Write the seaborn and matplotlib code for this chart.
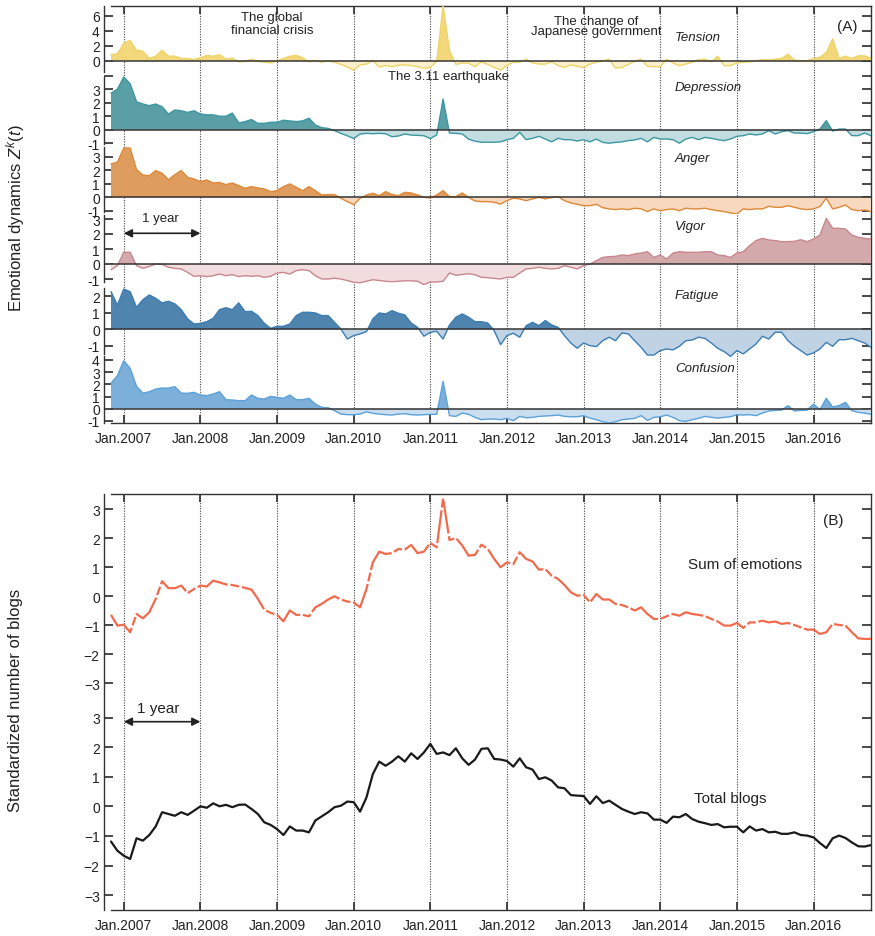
import numpy as np
import matplotlib
matplotlib.use("Agg")
import matplotlib.pyplot as plt
import seaborn as sns

# ---------------- data (monthly, Nov 2006 .. Oct 2016) ----------------
months = np.arange(120)
year_ticks = [2, 14, 26, 38, 50, 62, 74, 86, 98, 110]
year_labels = ["Jan.2007", "Jan.2008", "Jan.2009", "Jan.2010", "Jan.2011",
               "Jan.2012", "Jan.2013", "Jan.2014", "Jan.2015", "Jan.2016"]

tension = [0.8, 0.9, 2.35, 2.7, 1.4, 1.25, 0.3, 0.6, 1.4, 0.6,
           0.6, 0.3, 0.3, 0.15, 0.4, 0.7, 0.6, 0.8, 0.2, 0.35,
           -0.15, -0.1, 0.2, -0.1, -0.2, -0.3, -0.05, 0.3, 0.6, 0.7,
           0.4, -0.15, 0.05, -0.2, -0.05, -0.2, -0.5, -0.85, -1.25, -0.55,
           -0.45, 0.0, -0.85, -0.65, -0.8, -0.6, -0.55, -0.65, -0.8, -1.0,
           -0.9, -0.1, 7.3, 1.35, -0.5, -0.3, -0.35, -0.8, -0.15, -0.5,
           -0.9, -1.25, -0.65, -0.2, -0.2, 0.2, -0.3, -0.45, -0.45, -0.15,
           -0.65, -0.9, -0.55, -0.75, -0.9, -0.45, -0.2, 0.0, 0.2, -1.0,
           -0.9, -0.5, -0.05, 0.2, -0.75, -0.8, -0.8, 0.2, -0.3, -0.65,
           -0.45, -0.2, 0.15, 0.2, -0.15, 0.6, -0.65, -0.65, -0.3, -0.2,
           -0.15, 0.0, 0.15, 0.1, 0.2, 0.3, 0.85, 0.1, 0.0, 0.0,
           0.3, 0.45, 1.1, 2.9, 0.3, 0.6, 0.3, 0.65, 0.65, 0.3]

depression = [2.7, 3.0, 3.9, 3.4, 2.07, 1.9, 1.78, 1.9, 1.7, 1.16,
              1.46, 1.4, 1.28, 1.4, 1.16, 1.1, 1.1, 1.0, 1.0, 1.23,
              0.5, 0.6, 0.75, 0.47, 0.47, 0.55, 0.55, 0.7, 0.65, 0.6,
              0.65, 0.85, 0.35, 0.15, 0.1, -0.07, -0.27, -0.45, -0.65, -0.32,
              -0.27, -0.3, -0.27, -0.3, -0.52, -0.47, -0.32, -0.4, -0.42, -0.45,
              -0.65, -0.4, 2.27, -0.25, -0.27, -0.32, -0.7, -0.85, -0.93, -0.93,
              -0.93, -0.9, -0.74, -0.64, -0.2, -0.74, -0.64, -0.49, -0.69, -0.9,
              -0.64, -0.74, -0.74, -0.84, -0.74, -0.9, -0.69, -0.94, -1.0, -0.94,
              -0.9, -0.81, -0.76, -0.64, -0.9, -0.57, -0.69, -0.69, -0.74, -1.0,
              -0.69, -0.57, -0.74, -0.57, -0.64, -0.74, -0.81, -0.69, -0.49, -0.44,
              -0.32, -0.39, -0.32, -0.07, -0.32, -0.15, -0.07, -0.25, -0.25, -0.29,
              -0.15, 0.05, 0.67, -0.1, 0.05, 0.05, -0.44, -0.44, -0.25, -0.44]

anger = [2.47, 2.6, 3.65, 3.65, 2.05, 1.65, 1.6, 1.98, 1.78, 1.3,
         1.68, 1.98, 1.48, 1.36, 1.16, 1.28, 1.06, 1.1, 0.94, 1.06,
         0.86, 0.67, 0.79, 0.69, 0.62, 0.42, 0.49, 0.79, 0.99, 0.74,
         0.49, 0.79, 0.49, 0.17, 0.2, 0.2, -0.07, -0.32, -0.54, -0.07,
         0.17, 0.3, 0.12, 0.42, 0.2, 0.12, 0.37, 0.32, 0.17, 0.0,
         -0.05, 0.17, 0.49, 0.05, 0.05, 0.32, 0.0, -0.28, -0.32, -0.32,
         -0.37, -0.5, -0.25, -0.07, -0.12, -0.25, -0.12, 0.0, -0.12, -0.02,
         0.05, -0.25, -0.42, -0.52, -0.62, -0.62, -0.52, -0.77, -0.86, -0.91,
         -0.86, -0.91, -0.81, -0.86, -1.06, -0.86, -0.99, -0.91, -0.86, -0.99,
         -0.81, -0.86, -0.86, -0.81, -0.91, -0.99, -1.06, -1.16, -1.23, -0.86,
         -0.91, -0.86, -0.86, -0.67, -0.74, -0.74, -0.62, -0.74, -0.86, -0.91,
         -0.86, -0.69, -0.07, -0.86, -0.74, -0.57, -0.91, -0.99, -0.94, -1.06]

vigor = [-0.38, -0.11, 0.78, 0.78, -0.11, -0.29, -0.16, 0.0, -0.02, -0.22,
         -0.29, -0.33, -0.56, -0.82, -0.78, -0.84, -0.78, -0.67, -0.78, -0.71,
         -0.84, -0.78, -0.82, -0.78, -0.89, -0.82, -0.6, -0.56, -0.67, -0.44,
         -0.38, -0.44, -0.78, -1.0, -1.0, -0.95, -1.0, -1.1, -1.22, -1.25,
         -1.15, -1.05, -1.1, -1.15, -1.18, -1.15, -1.12, -1.12, -1.15, -1.38,
         -1.2, -1.2, -1.15, -0.6, -0.75, -0.7, -0.65, -0.72, -0.89, -0.91,
         -0.96, -1.0, -0.89, -0.89, -0.6, -0.33, -0.29, -0.22, -0.29, -0.33,
         -0.29, -0.11, -0.22, -0.33, -0.11, 0.0, 0.22, 0.44, 0.49, 0.51,
         0.6, 0.56, 0.67, 0.73, 0.82, 0.44, 0.6, 0.33, 0.73, 0.82,
         0.78, 0.78, 0.78, 0.82, 0.82, 0.6, 0.56, 0.44, 0.73, 0.82,
         1.22, 1.56, 1.71, 1.6, 1.56, 1.49, 1.49, 1.51, 1.62, 1.49,
         1.67, 1.93, 3.04, 2.38, 2.38, 2.33, 1.93, 1.78, 1.71, 1.67]

fatigue = [2.28, 1.47, 2.44, 2.28, 1.33, 1.8, 2.08, 1.88, 1.6, 1.7,
           1.54, 1.19, 0.63, 0.32, 0.36, 0.46, 0.67, 1.19, 1.31, 1.19,
           1.6, 1.07, 1.09, 0.83, 0.36, 0.06, 0.18, 0.18, 0.32, 0.83,
           1.03, 1.03, 0.99, 0.83, 0.83, 0.42, 0.02, -0.59, -0.38, -0.28,
           -0.14, 0.63, 0.99, 0.93, 1.13, 0.97, 0.87, 0.38, 0.12, -0.42,
           -0.18, -0.12, -0.59, 0.26, 0.73, 0.93, 0.73, 0.46, 0.46, 0.38,
           -0.08, -0.93, -0.38, -0.24, -0.48, 0.22, 0.42, 0.22, 0.53, 0.26,
           0.12, -0.38, -0.83, -1.15, -0.83, -0.99, -1.05, -0.69, -0.48, -0.69,
           -0.22, -0.28, -0.69, -1.09, -1.56, -1.56, -1.29, -1.19, -1.25, -1.03,
           -0.69, -0.65, -0.48, -0.55, -0.83, -1.15, -1.35, -1.64, -1.29, -1.49,
           -1.19, -0.89, -0.42, -0.59, -0.18, -0.18, -0.69, -1.03, -1.29, -1.56,
           -1.43, -1.19, -0.79, -1.03, -0.63, -0.63, -0.55, -0.69, -0.83, -1.09]

confusion = [2.1, 2.7, 3.93, 3.3, 1.83, 1.28, 1.39, 1.61, 1.69, 1.69,
             1.8, 1.28, 1.26, 1.34, 1.12, 1.07, 1.2, 1.39, 0.74, 0.71,
             0.66, 0.66, 1.12, 0.85, 0.79, 1.01, 0.93, 0.85, 1.12, 0.74,
             0.74, 0.85, 0.38, 0.11, 0.08, -0.16, -0.44, -0.49, -0.49, -0.44,
             -0.25, -0.38, -0.44, -0.49, -0.52, -0.44, -0.41, -0.49, -0.52, -0.49,
             -0.46, -0.46, 2.24, -0.57, -0.63, -0.36, -0.46, -0.71, -0.9, -0.85,
             -0.85, -0.9, -0.79, -0.98, -0.63, -0.74, -0.71, -0.63, -0.6, -0.57,
             -0.52, -0.63, -0.66, -0.66, -0.57, -0.77, -0.9, -1.07, -1.17, -1.07,
             -0.9, -0.85, -0.79, -0.57, -0.96, -0.71, -0.66, -0.52, -0.71, -0.98,
             -1.04, -0.9, -0.79, -0.63, -0.71, -0.77, -0.71, -0.66, -0.49, -0.52,
             -0.49, -0.57, -0.36, -0.19, -0.14, -0.11, 0.25, -0.19, -0.14, -0.11,
             0.38, -0.08, 0.85, 0.14, 0.25, 0.52, -0.16, -0.3, -0.36, -0.46]

sum_emotions = [-0.64, -1.01, -0.98, -1.24, -0.61, -0.76, -0.55, -0.09, 0.52, 0.28,
                0.28, 0.37, 0.11, 0.25, 0.37, 0.34, 0.54, 0.48, 0.41, 0.39,
                0.34, 0.29, 0.23, -0.09, -0.46, -0.57, -0.64, -0.86, -0.49, -0.64,
                -0.64, -0.69, -0.38, -0.26, -0.11, 0.0, -0.11, -0.18, -0.21, -0.38,
                0.25, 1.17, 1.54, 1.46, 1.49, 1.63, 1.61, 1.77, 1.49, 1.54,
                1.84, 1.69, 3.38, 1.94, 2.01, 1.75, 1.4, 1.43, 1.78, 1.63,
                1.29, 1.0, 1.17, 1.11, 1.52, 1.29, 1.2, 0.92, 0.94, 0.71,
                0.6, 0.39, 0.14, 0.02, 0.05, -0.21, 0.08, -0.11, -0.11, -0.26,
                -0.3, -0.38, -0.49, -0.38, -0.61, -0.78, -0.78, -0.69, -0.61, -0.67,
                -0.55, -0.61, -0.64, -0.68, -0.78, -0.87, -1.01, -1.01, -0.92, -1.09,
                -0.9, -0.9, -0.84, -0.9, -0.87, -0.95, -0.92, -0.99, -1.07, -1.15,
                -1.15, -1.3, -1.24, -0.95, -0.99, -1.01, -1.24, -1.45, -1.47, -1.47]

total_blogs = [-1.19, -1.5, -1.67, -1.78, -1.08, -1.16, -0.97, -0.68, -0.2, -0.26,
               -0.32, -0.2, -0.29, -0.15, 0.0, -0.05, 0.1, 0.0, 0.05, -0.03,
               0.05, 0.06, -0.09, -0.26, -0.54, -0.63, -0.77, -0.97, -0.68, -0.82,
               -0.82, -0.88, -0.48, -0.34, -0.2, -0.03, 0.02, 0.16, 0.14, -0.18,
               0.3, 1.09, 1.51, 1.37, 1.51, 1.69, 1.51, 1.79, 1.6, 1.82,
               2.11, 1.77, 1.82, 1.73, 1.96, 1.62, 1.4, 1.58, 1.94, 1.96,
               1.6, 1.58, 1.53, 1.34, 1.62, 1.32, 1.24, 0.92, 0.98, 0.87,
               0.64, 0.61, 0.38, 0.36, 0.35, 0.08, 0.34, 0.11, 0.19, 0.05,
               -0.09, -0.18, -0.26, -0.2, -0.24, -0.45, -0.45, -0.56, -0.35, -0.37,
               -0.26, -0.43, -0.52, -0.57, -0.63, -0.6, -0.71, -0.69, -0.69, -0.88,
               -0.68, -0.82, -0.77, -0.88, -0.86, -0.93, -0.93, -0.88, -0.97, -0.99,
               -1.05, -1.24, -1.41, -1.08, -0.99, -1.07, -1.22, -1.35, -1.36, -1.31]

emotion_names = ["Tension", "Depression", "Anger", "Vigor", "Fatigue", "Confusion"]
emotion_values = [tension, depression, anger, vigor, fatigue, confusion]

# ---------------- style ----------------
sns.set_theme(style="ticks")
plt.rcParams["font.family"] = ["Liberation Sans", "DejaVu Sans"]
plt.rcParams["mathtext.fontset"] = "custom"
plt.rcParams["mathtext.rm"] = "Liberation Sans"
plt.rcParams["mathtext.it"] = "Liberation Sans:italic"
plt.rcParams["axes.linewidth"] = 1.0
TXT = "#222222"

W, H = 875, 937
fig = plt.figure(figsize=(W / 100, H / 100), dpi=100)
fig.patch.set_facecolor("white")

PPM = (871 - 111) / 119.0     # pixels per month
XL = -7 / PPM                 # y-spine offset to the left of the data


def px_axes(left, top, right, bottom):
    return fig.add_axes([left / W, 1 - bottom / H, (right - left) / W, (bottom - top) / H])


def ftext(px, py, s, **kw):
    fig.text(px / W, 1 - py / H, s, color=TXT, **kw)


def background(top, bottom, left_spine):
    ax = px_axes(104, top, 871, bottom)
    ax.set_xlim(XL, 119)
    ax.set_ylim(bottom, top)
    ax.patch.set_alpha(0)
    for s in ["top", "bottom"]:
        ax.spines[s].set_bounds(0, 119)
    ax.spines["left"].set_visible(left_spine)
    for s in ax.spines.values():
        s.set_color("#333333")
    ax.set_yticks([])
    ax.set_xticks(year_ticks)
    ax.set_xticklabels(year_labels)
    ax.tick_params(axis="x", direction="in", length=6, top=True, bottom=True,
                   labelsize=10, colors="#333333", labelcolor=TXT, pad=6)
    for t in year_ticks:
        ax.axvline(t, color="#444444", lw=0.8, ls=(0, (1, 1.3)), zorder=0)
    return ax


# ---------------- panel A ----------------
bgA = background(7, 424, False)

# (zero pixel, pixels per unit, axes top px, axes bottom px, spine top px, spine bottom px, ticks)
layout = [
    (61.7, 7.5, 7, 76, 7, 73, [0, 2, 4, 6]),
    (130.7, 13.5, 75, 147, 78, 145, [-1, 0, 1, 2, 3, 4]),
    (198.3, 13.5, 146, 215, 148, 213, [-1, 0, 1, 2, 3]),
    (265.0, 15.0, 214, 286, 216, 283, [-1, 0, 1, 2, 3]),
    (330.3, 16.5, 285, 358, 289, 355, [-1, 0, 1, 2]),
    (409.7, 12.2, 355, 424, 357, 424, [-1, 0, 1, 2, 3, 4]),
]
colors = [
    ("#F2D87A", "#FAF1CC", "#EFD466"),
    ("#5A9EA6", "#C2DDE0", "#3C97A2"),
    ("#DE9D5E", "#F8D9BF", "#DE8838"),
    ("#D4A9AC", "#F2DDDE", "#C8878D"),
    ("#4F84AE", "#C0D3E5", "#3B7DB5"),
    ("#7CAFD9", "#CADEF0", "#5BA1DA"),
]

for name, vals, (z0, ppu, atop, abot, stop, sbot, ticks), (cpos, cneg, cline) in zip(
        emotion_names, emotion_values, layout, colors):
    v = np.asarray(vals, dtype=float)
    ax = px_axes(104, atop, 871, abot)
    ax.patch.set_alpha(0)
    ax.set_xlim(XL, 119)
    ax.set_ylim((z0 - abot) / ppu, (z0 - atop) / ppu)
    ax.fill_between(months, v, 0, where=v >= 0, interpolate=True, color=cpos, lw=0, zorder=1)
    ax.fill_between(months, v, 0, where=v <= 0, interpolate=True, color=cneg, lw=0, zorder=1)
    sns.lineplot(x=months, y=v, ax=ax, color=cline, lw=1.0, zorder=2)
    ax.hlines(0, 0, 119, color="#333333", lw=1.1, zorder=3)
    for s in ["top", "bottom", "right"]:
        ax.spines[s].set_visible(False)
    ax.spines["left"].set_color("#333333")
    ax.spines["left"].set_bounds((z0 - sbot) / ppu, (z0 - stop) / ppu)
    ax.set_xticks([])
    lo, hi = ax.get_ylim()
    tk = [t for t in ticks if lo <= t <= hi]
    ax.set_yticks(tk)
    ax.set_yticklabels(["" if (name == "Depression" and t == 4) else str(t) for t in tk])
    ax.tick_params(axis="y", direction="in", length=6.5, left=True, right=True,
                   labelsize=10, colors="#333333", labelcolor=TXT, pad=3)
    ax.set_xlabel("")
    ax.set_ylabel("")

# annotations panel A
ftext(272, 24.5, "The global\nfinancial crisis", ha="center", va="center", fontsize=9.5, linespacing=1.1)
ftext(596, 27, "The change of\nJapanese government", ha="center", va="center", fontsize=9.5, linespacing=0.85)
ftext(449, 77, "The 3.11 earthquake", ha="center", va="center", fontsize=9.5)
for lbl, py in zip(emotion_names, [38, 88, 159, 227, 296, 369]):
    ftext(675, py, lbl, ha="left", va="center", fontsize=9.5, style="italic")
ftext(847, 27, "(A)", ha="center", va="center", fontsize=11)
ftext(160, 219, "1 year", ha="center", va="center", fontsize=9.5)
bgA.annotate("", xy=(14, 234.3), xytext=(2, 234.3),
             arrowprops=dict(arrowstyle="<|-|>", color="#222222", lw=1.2,
                             shrinkA=0, shrinkB=0, mutation_scale=12), zorder=10)

# ---------------- panel B ----------------
bgB = background(495, 911, True)

sumAx = px_axes(104, 495, 871, 703)
totAx = px_axes(104, 703, 871, 911)
for ax, vals, z0, ppu, top, bot, col, lw in [
        (sumAx, sum_emotions, 597.3, 29.0, 495, 703, "#F26A4C", 1.6),
        (totAx, total_blogs, 807.3, 29.6, 703, 911, "#1A1A1A", 1.6)]:
    ax.patch.set_alpha(0)
    ax.set_xlim(XL, 119)
    ax.set_ylim((z0 - bot) / ppu, (z0 - top) / ppu)
    sns.lineplot(x=months, y=np.asarray(vals, dtype=float), ax=ax, color=col, lw=lw)
    for s in ax.spines.values():
        s.set_visible(False)
    ax.set_xticks([])
    ax.set_yticks([-3, -2, -1, 0, 1, 2, 3])
    ax.tick_params(axis="y", direction="in", length=6.5, left=True, right=True,
                   labelsize=10, colors="#333333", labelcolor=TXT, pad=3)
    ax.set_xlabel("")
    ax.set_ylabel("")
sumAx.lines[0].set_dashes([15, 1.2, 4, 1.2])

ftext(833, 521, "(B)", ha="center", va="center", fontsize=11)
ftext(745, 565, "Sum of emotions", ha="center", va="center", fontsize=11)
ftext(730, 799, "Total blogs", ha="center", va="center", fontsize=11)
ftext(158, 709, "1 year", ha="center", va="center", fontsize=11)
bgB.annotate("", xy=(14, 722.7), xytext=(2, 722.7),
             arrowprops=dict(arrowstyle="<|-|>", color="#222222", lw=1.2,
                             shrinkA=0, shrinkB=0, mutation_scale=12), zorder=10)

# axis titles
ftext(16, 218, "Emotional dynamics $Z^k(t)$", rotation=90, ha="center", va="center", fontsize=12)
ftext(16, 700, "Standardized number of blogs", rotation=90, ha="center", va="center", fontsize=12)

fig.savefig("out.png", dpi=100, facecolor="white")
